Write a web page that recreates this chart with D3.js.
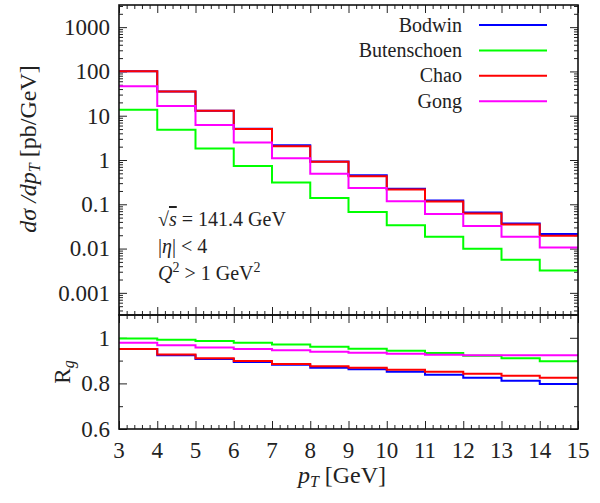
<!DOCTYPE html>
<html>
<head>
<meta charset="utf-8">
<script src="https://cdn.jsdelivr.net/npm/d3@7"></script>
<style>
  body { margin: 0; background: #fff; }
  text { font-family: "Liberation Serif", "DejaVu Serif", serif; fill: #222; }
</style>
</head>
<body>
<script>
// bins in pT [GeV], lower edges, last edge is 15
const binEdges = [3, 4, 5, 6, 7, 8, 9, 10, 11, 12, 13, 14, 15];
const seriesNames = ["Bodwin", "Butenschoen", "Chao", "Gong"];
const seriesColors = ["#0000ff", "#00ff00", "#ff0000", "#ff00ff"];

// dsigma/dpT [pb/GeV]
const bodwin = [101, 35, 13, 5.1, 2.15, 0.92, 0.455, 0.225, 0.121, 0.065, 0.0368, 0.0212];
const butenschoen = [13.6, 4.85, 1.81, 0.73, 0.31, 0.139, 0.067, 0.0337, 0.0184, 0.0099, 0.0056, 0.0032];
const chao = [101, 35, 13, 5.0, 2.04, 0.91, 0.43, 0.217, 0.115, 0.062, 0.035, 0.0194];
const gong = [46.5, 16.5, 6.2, 2.47, 1.1, 0.49, 0.232, 0.117, 0.0605, 0.0325, 0.0184, 0.0106];

// R_g
const rBodwin = [0.951, 0.924, 0.907, 0.894, 0.882, 0.869, 0.862, 0.851, 0.838, 0.825, 0.812, 0.797];
const rButenschoen = [0.997, 0.991, 0.986, 0.978, 0.971, 0.961, 0.952, 0.943, 0.933, 0.921, 0.910, 0.897];
const rChao = [0.951, 0.927, 0.910, 0.898, 0.885, 0.875, 0.869, 0.860, 0.851, 0.842, 0.834, 0.825];
const rGong = [0.978, 0.967, 0.958, 0.951, 0.945, 0.939, 0.934, 0.930, 0.926, 0.924, 0.923, 0.923];

const topTicks = [0.001, 0.01, 0.1, 1, 10, 100, 1000];
const botTicks = [0.6, 0.8, 1];
const botMinor = [0.7, 0.9];

const W = 600, H = 503;
const pLeft = 119, pRight = 578, pTop = 5, pMid = 315, pBottom = 429;

const svg = d3.select("body").append("svg")
    .attr("width", W)
    .attr("height", H);

const x = d3.scaleLinear().domain([3, 15]).range([pLeft, pRight]);
const yTop = d3.scaleLog().domain([Math.pow(10, -3.5), Math.pow(10, 3.5)]).range([pMid, pTop]);
const yBot = d3.scaleLinear().domain([0.6, 1.1]).range([pBottom, pMid]);

const xMajor = d3.range(3, 15.01, 1);
const xMinor = d3.range(3, 15.01, 0.2).filter(v => Math.abs(v - Math.round(v)) > 0.01);
const logMinor = yTop.ticks().filter(v => Math.abs(Math.log10(v) - Math.round(Math.log10(v))) > 1e-6);

const MAJ = 8, MIN = 4;

// helper for inward ticks
function ticksAxis(axisFn, scale, values, len, tx, ty) {
    const g = svg.append("g")
        .attr("transform", `translate(${tx},${ty})`)
        .call(axisFn(scale).tickValues(values).tickSize(-len).tickSizeOuter(0).tickFormat(""));
    g.select(".domain").remove();
    g.selectAll("line").attr("stroke", "#222").attr("stroke-width", 1);
    return g;
}

// top panel ticks
ticksAxis(d3.axisLeft, yTop, topTicks, MAJ, pLeft, 0);
ticksAxis(d3.axisLeft, yTop, logMinor, MIN, pLeft, 0);
ticksAxis(d3.axisRight, yTop, topTicks, MAJ, pRight, 0);
ticksAxis(d3.axisRight, yTop, logMinor, MIN, pRight, 0);
ticksAxis(d3.axisTop, x, xMajor, MAJ, 0, pTop);
ticksAxis(d3.axisTop, x, xMinor, MIN, 0, pTop);
ticksAxis(d3.axisBottom, x, xMajor, MAJ, 0, pMid);
ticksAxis(d3.axisBottom, x, xMinor, MIN, 0, pMid);

// bottom panel ticks
ticksAxis(d3.axisLeft, yBot, botTicks, MAJ, pLeft, 0);
ticksAxis(d3.axisLeft, yBot, botMinor, MIN, pLeft, 0);
ticksAxis(d3.axisRight, yBot, botTicks, MAJ, pRight, 0);
ticksAxis(d3.axisRight, yBot, botMinor, MIN, pRight, 0);
ticksAxis(d3.axisTop, x, xMajor, MAJ, 0, pMid);
ticksAxis(d3.axisTop, x, xMinor, MIN, 0, pMid);
ticksAxis(d3.axisBottom, x, xMajor, MAJ, 0, pBottom);
ticksAxis(d3.axisBottom, x, xMinor, MIN, 0, pBottom);

// tick labels
svg.append("g").selectAll("text")
    .data(topTicks)
    .enter()
    .append("text")
    .attr("x", pLeft - 9)
    .attr("y", d => yTop(d))
    .attr("dy", "0.34em")
    .attr("text-anchor", "end")
    .attr("font-size", 23)
    .text(d => String(d));

svg.append("g").selectAll("text")
    .data(botTicks)
    .enter()
    .append("text")
    .attr("x", pLeft - 9)
    .attr("y", d => yBot(d))
    .attr("dy", "0.34em")
    .attr("text-anchor", "end")
    .attr("font-size", 23)
    .text(d => String(d));

svg.append("g").selectAll("text")
    .data(xMajor)
    .enter()
    .append("text")
    .attr("x", d => x(d))
    .attr("y", 458)
    .attr("text-anchor", "middle")
    .attr("font-size", 23)
    .text(d => String(d));

// step lines
function stepPoints(vals) {
    const pts = vals.map((v, i) => [binEdges[i], v]);
    pts.push([binEdges[binEdges.length - 1], vals[vals.length - 1]]);
    return pts;
}

const topData = [bodwin, butenschoen, chao, gong];
const botData = [rBodwin, rButenschoen, rChao, rGong];

const lineTop = d3.line().curve(d3.curveStepAfter).x(d => x(d[0])).y(d => yTop(d[1]));
const lineBot = d3.line().curve(d3.curveStepAfter).x(d => x(d[0])).y(d => yBot(d[1]));

svg.append("g").selectAll("path")
    .data(topData)
    .enter()
    .append("path")
    .attr("d", d => lineTop(stepPoints(d)))
    .attr("fill", "none")
    .attr("stroke", (d, i) => seriesColors[i])
    .attr("stroke-width", 2);

svg.append("g").selectAll("path")
    .data(botData)
    .enter()
    .append("path")
    .attr("d", d => lineBot(stepPoints(d)))
    .attr("fill", "none")
    .attr("stroke", (d, i) => seriesColors[i])
    .attr("stroke-width", 2);

// frames
svg.append("rect")
    .attr("x", pLeft).attr("y", pTop)
    .attr("width", pRight - pLeft).attr("height", pMid - pTop)
    .attr("fill", "none").attr("stroke", "#111").attr("stroke-width", 1.6);
svg.append("rect")
    .attr("x", pLeft).attr("y", pMid)
    .attr("width", pRight - pLeft).attr("height", pBottom - pMid)
    .attr("fill", "none").attr("stroke", "#111").attr("stroke-width", 1.6);

// legend
const leg = svg.append("g");
seriesNames.forEach((name, i) => {
    const ly = 25 + i * 25.4;
    leg.append("text")
        .attr("x", 462)
        .attr("y", ly + 6.5)
        .attr("text-anchor", "end")
        .attr("font-size", 20)
        .text(name);
    leg.append("line")
        .attr("x1", 479).attr("x2", 547)
        .attr("y1", ly).attr("y2", ly)
        .attr("stroke", seriesColors[i])
        .attr("stroke-width", 2);
});

// annotations
const a1 = svg.append("text").attr("x", 158).attr("y", 226).attr("font-size", 20);
a1.append("tspan").text("\u221A");
a1.append("tspan").attr("font-style", "italic").style("text-decoration", "overline").text("s");
a1.append("tspan").text(" = 141.4 GeV");

const a2 = svg.append("text").attr("x", 158).attr("y", 253).attr("font-size", 20);
a2.append("tspan").text("|");
a2.append("tspan").attr("font-style", "italic").text("\u03B7");
a2.append("tspan").text("| < 4");

const a3 = svg.append("text").attr("x", 158).attr("y", 280).attr("font-size", 20);
a3.append("tspan").attr("font-style", "italic").text("Q");
a3.append("tspan").attr("font-size", 14).attr("dy", -8).text("2");
a3.append("tspan").attr("dy", 8).text(" > 1 GeV");
a3.append("tspan").attr("font-size", 14).attr("dy", -8).text("2");

// axis titles
const yl = svg.append("text")
    .attr("transform", "translate(36,149) rotate(-90)")
    .attr("text-anchor", "middle")
    .attr("font-size", 24);
yl.append("tspan").attr("font-style", "italic").text("d\u03C3 /dp");
yl.append("tspan").attr("font-style", "italic").attr("font-size", 16).attr("dy", 4).text("T");
yl.append("tspan").attr("dy", -4).text(" [pb/GeV]");

const rl = svg.append("text")
    .attr("transform", "translate(70,372) rotate(-90)")
    .attr("text-anchor", "middle")
    .attr("font-size", 23);
rl.append("tspan").text("R");
rl.append("tspan").attr("font-style", "italic").attr("font-size", 16).attr("dy", 4).text("g");

const xl = svg.append("text")
    .attr("x", 342)
    .attr("y", 483)
    .attr("text-anchor", "middle")
    .attr("font-size", 24);
xl.append("tspan").attr("font-style", "italic").text("p");
xl.append("tspan").attr("font-style", "italic").attr("font-size", 16).attr("dy", 4).text("T");
xl.append("tspan").attr("dy", -4).text(" [GeV]");
</script>
</body>
</html>
